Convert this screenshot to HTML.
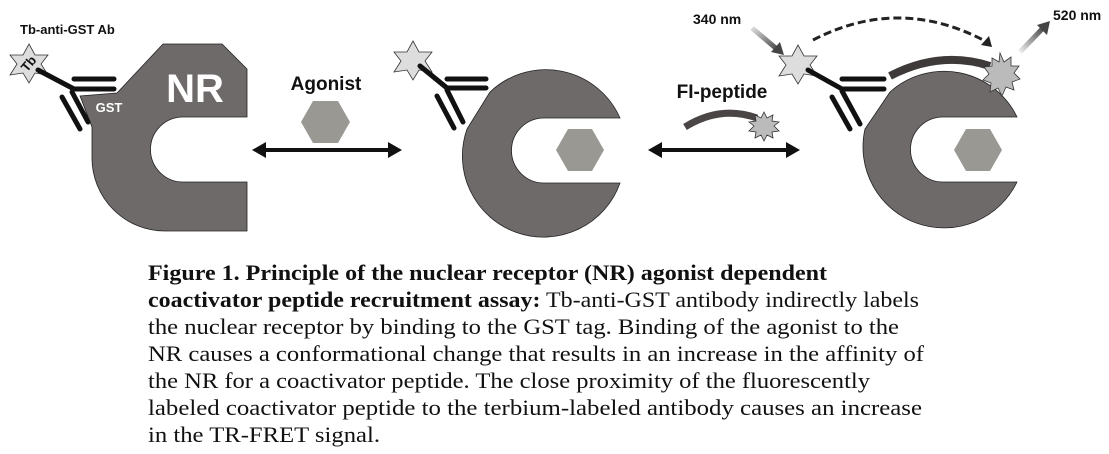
<!DOCTYPE html>
<html><head><meta charset="utf-8"><style>
html,body{margin:0;padding:0;background:#fff;width:1109px;height:454px;overflow:hidden}
svg{display:block}
.cap{font-family:"Liberation Serif",serif;font-size:22px;fill:#111}
.lab{font-family:"Liberation Sans",sans-serif;font-weight:bold;fill:#111}
</style></head><body>
<svg width="1109" height="454" viewBox="0 0 1109 454">
<defs>
<linearGradient id="g1" x1="0" y1="0" x2="1" y2="1"><stop offset="0" stop-color="#ddd"/><stop offset="1" stop-color="#444"/></linearGradient>
<linearGradient id="g2" x1="0" y1="1" x2="1" y2="0"><stop offset="0" stop-color="#eee"/><stop offset="1" stop-color="#444"/></linearGradient>
</defs>

<!-- Panel 1 NR -->
<path d="M163,44 L222,44 L247,69 L247,117 L183,117 A32.5,32.5 0 0 0 183,182 L247,182 L247,231 L165,231 A73,73 0 0 1 92,158 L92,127 L80,96 L117,93 Z" fill="#6e6a69" stroke="#222" stroke-width="0.8"/>
<text x="195" y="102" class="lab" style="font-size:40px;fill:#fff" text-anchor="middle">NR</text>
<text x="109" y="112" class="lab" style="font-size:13px;fill:#fff" text-anchor="middle">GST</text>
<!-- antibody 1 -->
<polygon points="29,44 35,55 48,55 41,64 48,75 35,73 29,83 23,73 10,75 17,64 10,55 23,55" fill="#ddd" stroke="#333" stroke-width="0.8"/>
<text x="29" y="68" class="lab" style="font-size:13px" text-anchor="middle" transform="rotate(-50 29 64)">Tb</text>
<g stroke="#111" stroke-width="5" stroke-linecap="round">
<line x1="38" y1="70" x2="74" y2="89"/>
<line x1="74" y1="89" x2="114" y2="89"/>
<line x1="74" y1="79" x2="114" y2="79"/>
<line x1="72" y1="92" x2="88" y2="122"/>
<line x1="62" y1="97" x2="80" y2="129"/>
</g>
<text x="20" y="34" class="lab" style="font-size:13px">Tb-anti-GST Ab</text>

<!-- Agonist -->
<text x="326" y="90" class="lab" style="font-size:19px" text-anchor="middle">Agonist</text>
<polygon points="301,122 313,101 338,101 350,122 338,143 313,143" fill="#999893"/>
<line x1="262" y1="150" x2="392" y2="150" stroke="#111" stroke-width="4"/>
<polygon points="252,150 266,142 266,158" fill="#111"/>
<polygon points="402,150 388,142 388,158" fill="#111"/>

<!-- Panel 2 -->
<path d="M490,92 A81,81 0 0 1 620,118 L544,118 A32.5,32.5 0 0 0 544,183 L620,183 A81,81 0 0 1 467,129 Z" fill="#6e6a69" stroke="#222" stroke-width="0.8"/>
<polygon points="556,150 568,129 592,129 604,150 592,171 568,171" fill="#999893"/>
<polygon points="413,41 419,52 432,52 425,61 432,72 419,70 413,80 407,70 394,72 401,61 394,52 407,52" fill="#ddd" stroke="#333" stroke-width="0.8"/>
<g stroke="#111" stroke-width="5" stroke-linecap="round">
<line x1="420" y1="66" x2="447" y2="88"/>
<line x1="447" y1="88" x2="486" y2="88"/>
<line x1="447" y1="79" x2="486" y2="79"/>
<line x1="447" y1="90" x2="463" y2="122"/>
<line x1="437" y1="96" x2="454" y2="128"/>
</g>

<!-- FI-peptide -->
<text x="722" y="98" class="lab" style="font-size:19px" text-anchor="middle">FI-peptide</text>
<path d="M685,127 Q720,105 757,118" fill="none" stroke="#4a4646" stroke-width="7"/>
<polygon points="764,112 767,118 773,115 772,121 779,122 774,126 779,131 772,132 773,138 767,135 764,141 761,135 755,138 756,132 749,131 754,126 749,122 756,121 755,115 761,118" fill="#bbb" stroke="#333" stroke-width="0.8"/>
<line x1="658" y1="150" x2="790" y2="150" stroke="#111" stroke-width="4"/>
<polygon points="648,150 662,142 662,158" fill="#111"/>
<polygon points="800,150 786,142 786,158" fill="#111"/>

<!-- Panel 3 -->
<path d="M890,92 A81,81 0 0 1 1017,117 L943,117 A32.5,32.5 0 0 0 943,182 L1017,182 A81,81 0 0 1 865,129 Z" fill="#6e6a69" stroke="#222" stroke-width="0.8"/>
<polygon points="954,150 966,129 990,129 1002,150 990,171 966,171" fill="#999893"/>
<path d="M890,76 Q940,50 990,66" fill="none" stroke="#3e3a3a" stroke-width="8"/>
<polygon points="1000,53 1004,62 1011,57 1011,66 1019,66 1014,73 1020,79 1012,82 1014,90 1006,87 1002,96 998,88 990,92 991,83 983,80 989,74 984,67 992,66 992,58 999,62" fill="#bbb" stroke="#333" stroke-width="0.8"/>
<polygon points="798,45 804,56 817,56 810,65 817,76 804,74 798,84 792,74 779,76 786,65 779,56 792,56" fill="#ddd" stroke="#333" stroke-width="0.8"/>
<g stroke="#111" stroke-width="5" stroke-linecap="round">
<line x1="808" y1="70" x2="842" y2="89"/>
<line x1="842" y1="89" x2="884" y2="89"/>
<line x1="842" y1="79" x2="884" y2="79"/>
<line x1="842" y1="91" x2="860" y2="124"/>
<line x1="832" y1="97" x2="850" y2="129"/>
</g>
<path d="M813,40 Q900,-5 987,42" fill="none" stroke="#222" stroke-width="3" stroke-dasharray="8,4"/>
<polygon points="992,47 981,45 989,36" fill="#222"/>
<line x1="752" y1="28" x2="778" y2="50" stroke="url(#g1)" stroke-width="5"/>
<polygon points="784,55 771,52 780,42" fill="#444"/>
<line x1="1020" y1="52" x2="1044" y2="27" stroke="url(#g2)" stroke-width="5"/>
<polygon points="1050,21 1047,35 1037,25" fill="#444"/>
<text x="693" y="24" class="lab" style="font-size:14px">340 nm</text>
<text x="1053" y="20" class="lab" style="font-size:14px">520 nm</text>

<!-- caption -->
<text x="148" y="280" class="cap" font-weight="bold" textLength="679" lengthAdjust="spacingAndGlyphs">Figure 1.  Principle of the nuclear receptor (NR) agonist dependent</text>
<text x="148" y="307" class="cap" textLength="771" lengthAdjust="spacingAndGlyphs"><tspan font-weight="bold">coactivator peptide recruitment assay:</tspan> Tb-anti-GST antibody indirectly labels</text>
<text x="148" y="334" class="cap" textLength="751" lengthAdjust="spacingAndGlyphs">the nuclear receptor by binding to the GST tag. Binding of the agonist to the</text>
<text x="148" y="361" class="cap" textLength="776" lengthAdjust="spacingAndGlyphs">NR causes a conformational change that results in an increase in the affinity of</text>
<text x="148" y="388" class="cap" textLength="722" lengthAdjust="spacingAndGlyphs">the NR for a coactivator peptide. The close proximity of the fluorescently</text>
<text x="148" y="415" class="cap" textLength="774" lengthAdjust="spacingAndGlyphs">labeled coactivator peptide to the terbium-labeled antibody causes an increase</text>
<text x="148" y="442" class="cap" textLength="232" lengthAdjust="spacingAndGlyphs">in the TR-FRET signal.</text>
</svg>
</body></html>
